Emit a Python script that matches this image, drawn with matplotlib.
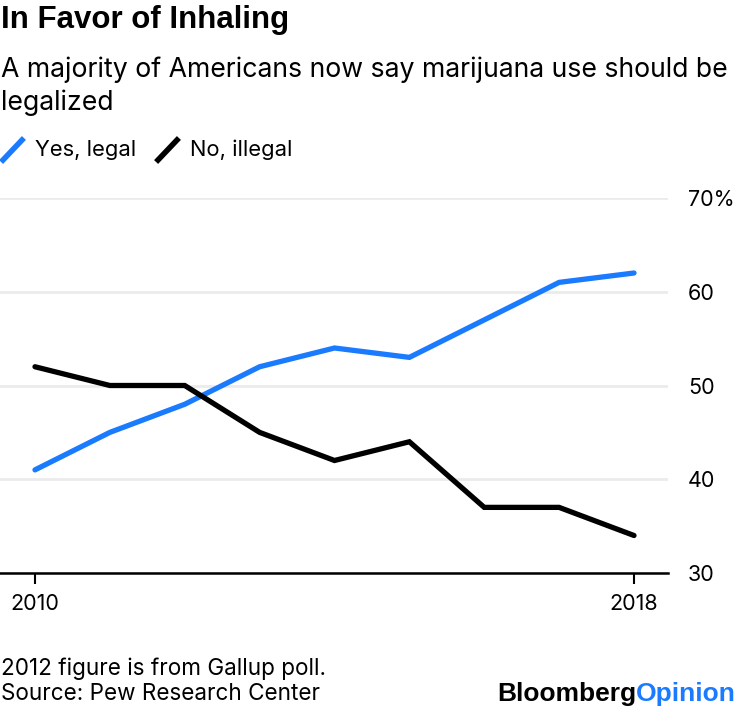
import matplotlib
matplotlib.use("Agg")
import matplotlib.pyplot as plt
from matplotlib.lines import Line2D

# Pew poll: should marijuana use be legal? (%)
years = [2010, 2011, 2012, 2013, 2014, 2015, 2016, 2017, 2018]
yes_legal = [41, 45, 48, 52, 54, 53, 57, 61, 62]
no_illegal = [52, 50, 50, 45, 42, 44, 37, 37, 34]
y_ticks = [30, 40, 50, 60, 70]
y_tick_labels = ["30", "40", "50", "60", "70%"]
x_ticks = [2010, 2018]

BLUE = "#1a7bff"
GRID = "#ebebeb"
BOLD = ["Liberation Sans", "DejaVu Sans"]

plt.rcParams["font.family"] = ["Inter", "DejaVu Sans"]

fig = plt.figure(figsize=(7.4, 7.1), dpi=100)
W, H = 740, 710

ax = fig.add_axes([0, 1 - 573 / H, 668 / W, (573 - 198) / H])
ax.plot(years, yes_legal, color=BLUE, lw=3.8, solid_capstyle="round", solid_joinstyle="miter", zorder=3)
ax.plot(years, no_illegal, color="black", lw=3.8, solid_capstyle="round", solid_joinstyle="miter", zorder=3)

ax.set_xlim(2010 - 35 / 74.9, 2018 + 34 / 74.9)
ax.set_ylim(30, 70)

for spine in ["top", "left", "right"]:
    ax.spines[spine].set_visible(False)
ax.spines["bottom"].set_linewidth(1.8)
ax.spines["bottom"].set_zorder(4)

ax.set_yticks(y_ticks)
ax.set_yticklabels(y_tick_labels)
ax.yaxis.tick_right()
ax.tick_params(axis="y", length=0, pad=14.5, labelsize=15.5)
ax.set_xticks(x_ticks)
ax.set_xticklabels([str(x) for x in x_ticks])
ax.tick_params(axis="x", length=8, width=1.5, pad=7, labelsize=15.5)
for lbl in ax.get_yticklabels():
    lbl.set_horizontalalignment("left")
ax.grid(axis="y", color=GRID, lw=2)
ax.set_axisbelow(True)

# titles
fig.text(1 / W, 1 - 20 / H, "In Favor of Inhaling", fontsize=22.5, fontweight="bold",
         family=BOLD, va="center")
fig.text(1 / W, 1 - 70 / H, "A majority of Americans now say marijuana use should be",
         fontsize=19.2, va="center")
fig.text(1 / W, 1 - 103 / H, "legalized", fontsize=19.2, va="center")

# legend with slanted marks
for x0, color, label in [(3, BLUE, "Yes, legal"), (158, "black", "No, illegal")]:
    fig.add_artist(Line2D([x0 / W, (x0 + 19) / W], [1 - 160 / H, 1 - 140 / H],
                          color=color, lw=4, transform=fig.transFigure))
    fig.text((x0 + 32) / W, 1 - 150 / H, label, fontsize=15.8, va="center")

# footer
fig.text(1 / W, 1 - 669 / H, "2012 figure is from Gallup poll.", fontsize=16.2, va="center")
fig.text(1 / W, 1 - 694 / H, "Source: Pew Research Center", fontsize=16.2, va="center")
t = fig.text(1 - 4 / W, 1 - 694 / H, "Opinion", fontsize=19, fontweight="bold", color=BLUE,
             family=BOLD, va="center", ha="right")
fig.canvas.draw()
bb = t.get_window_extent()
fig.text(bb.x0 / W, 1 - 694 / H, "Bloomberg", fontsize=19, fontweight="bold", color="black",
         family=BOLD, va="center", ha="right")

fig.savefig("out.png", dpi=100)
